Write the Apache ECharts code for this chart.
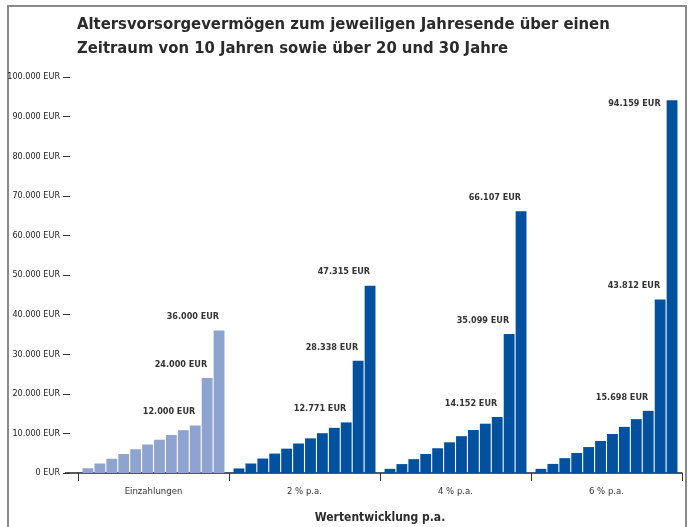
<!DOCTYPE html>
<html>
<head>
<meta charset="utf-8">
<script src="https://cdn.jsdelivr.net/npm/echarts@6/dist/echarts.min.js"></script>
<style>
  html, body { margin: 0; padding: 0; background: #fff; }
  #chart { width: 692px; height: 527px; }
</style>
</head>
<body>
<div id="chart"></div>
<script>
// Gruppen auf der x-Achse
const groups = ['Einzahlungen', '2 % p.a.', '4 % p.a.', '6 % p.a.'];
// Werte je Gruppe: Jahr 1..10, dann 20 und 30 Jahre
const einzahlungen = [1200, 2400, 3600, 4800, 6000, 7200, 8400, 9600, 10800, 12000, 24000, 36000];
const rendite2 = [1150, 2400, 3650, 4900, 6150, 7450, 8750, 10050, 11400, 12771, 28338, 47315];
const rendite4 = [1050, 2250, 3500, 4800, 6250, 7750, 9300, 10850, 12450, 14152, 35099, 66107];
const rendite6 = [1050, 2300, 3750, 5050, 6550, 8100, 9850, 11650, 13600, 15698, 43812, 94159];
// y-Achse
const yTicks = [0, 10000, 20000, 30000, 40000, 50000, 60000, 70000, 80000, 90000, 100000];

const narrow = '"Liberation Sans Narrow", "DejaVu Sans Condensed", sans-serif';
const lightBlue = '#8fa3d0';
const darkBlue = '#02519e';
const labelIdx = [9, 10, 11];

function fmt(v) {
    return String(v).replace(/\B(?=(\d{3})+(?!\d))/g, '.') + ' EUR';
}

const allGroups = [einzahlungen, rendite2, rendite4, rendite6];

const series = einzahlungen.map((_, i) => ({
    type: 'bar',
    barGap: '10%',
    barCategoryGap: '6%',
    animation: false,
    data: allGroups.map((g, gi) => {
        const item = {
            value: g[i],
            itemStyle: { color: gi === 0 ? lightBlue : darkBlue }
        };
        if (labelIdx.includes(i)) {
            const big = g[i] > 90000;
            item.label = {
                show: true,
                position: big ? [-6, 4] : ['50%', -9],
                align: 'right',
                verticalAlign: big ? 'middle' : 'bottom',
                formatter: fmt(g[i]),
                fontFamily: narrow,
                fontSize: 9,
                fontWeight: 'bold',
                color: '#333'
            };
        }
        return item;
    })
}));

const chart = echarts.init(document.getElementById('chart'));
chart.setOption({
    backgroundColor: '#fff',
    title: {
        text: 'Altersvorsorgevermögen zum jeweiligen Jahresende über einen\nZeitraum von 10 Jahren sowie über 20 und 30 Jahre',
        left: 72,
        top: 8,
        textStyle: {
            fontFamily: narrow,
            fontSize: 16.5,
            fontWeight: 'bold',
            color: '#2b2b2b',
            lineHeight: 24
        }
    },
    grid: { left: 78, right: 10, top: 77, bottom: 54, outerBoundsMode: 'none' },
    xAxis: {
        type: 'category',
        data: groups,
        name: 'Wertentwicklung p.a.',
        nameLocation: 'middle',
        nameGap: 39,
        nameTextStyle: { fontFamily: narrow, fontSize: 12, fontWeight: 'bold', color: '#2b2b2b' },
        axisLine: { lineStyle: { color: '#222', width: 1.5 } },
        axisTick: { show: true, length: 8, lineStyle: { color: '#333' } },
        axisLabel: { margin: 14, fontFamily: narrow, fontSize: 9.5, color: '#333' }
    },
    yAxis: {
        type: 'value',
        min: yTicks[0],
        max: yTicks[yTicks.length - 1],
        interval: yTicks[1] - yTicks[0],
        offset: 8,
        splitLine: { show: false },
        axisLine: { show: false },
        axisTick: { show: true, length: 7, lineStyle: { color: '#333' } },
        axisLabel: {
            margin: 10,
            fontFamily: narrow,
            fontSize: 9,
            color: '#222',
            formatter: v => fmt(v)
        }
    },
    series: series
});

// Rahmen und Verlängerung der Nulllinie nach links
const zero = chart.convertToPixel({ gridIndex: 0 }, [0, 0]);
chart.setOption({
    graphic: [{
        type: 'polyline',
        shape: { points: [[8, 527], [8, 6], [686, 6], [686, 527]] },
        style: { stroke: '#8a8a8a', lineWidth: 2, fill: null }
    }, {
        type: 'line',
        shape: { x1: 65, y1: zero[1], x2: 78, y2: zero[1] },
        style: { stroke: '#222', lineWidth: 1.5 }
    }]
});
</script>
</body>
</html>
